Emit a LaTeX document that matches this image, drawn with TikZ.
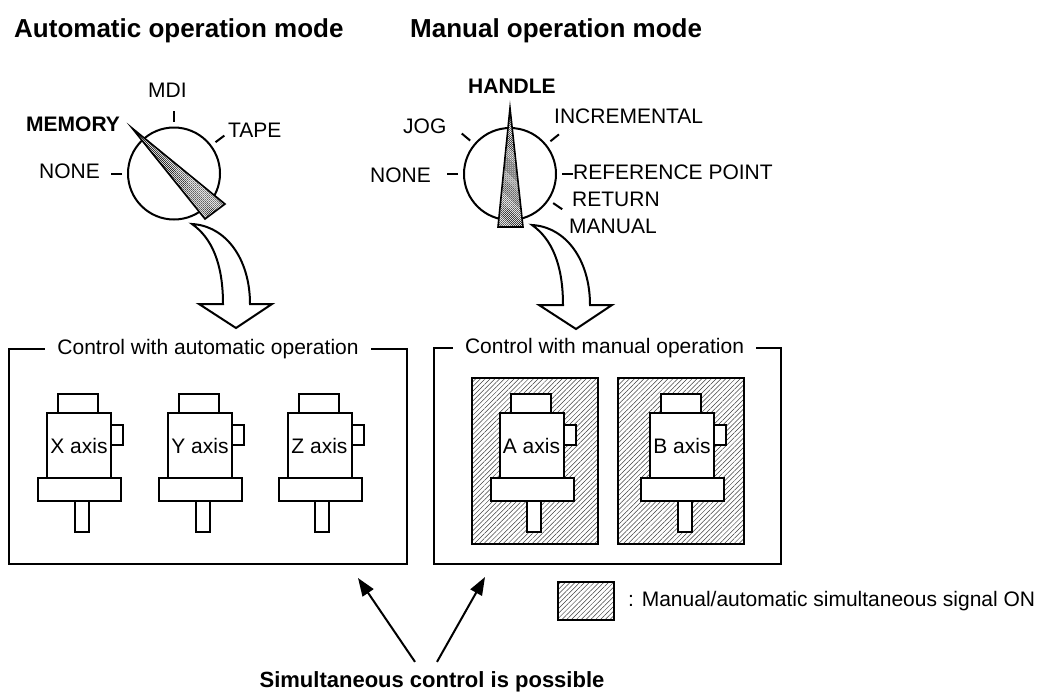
\documentclass[tikz,border=0pt]{standalone}
\usepackage{fontspec}
\setmainfont{Liberation Sans}
\usetikzlibrary{arrows.meta, positioning, calc, patterns.meta}
\tikzset{
    motorpart/.style={draw, fill=white, line width=2pt, inner sep=0pt, outer sep=0pt},
    hatch/.style={draw, line width=2pt, inner sep=0pt, outer sep=0pt, preaction={fill=white},
        pattern={Lines[angle=45, distance=3.4pt, line width=0.5pt]}, pattern color=black!75},
    dial/.style={circle, draw, fill=white, line width=2pt, minimum size=92pt, inner sep=0pt},
    needle/.style={draw, line width=1.6pt, line join=miter, preaction={fill=white},
        pattern={Lines[angle=-45, distance=1.4pt, line width=0.45pt]}},
    dialtick/.style={line width=2pt},
    lbl/.style={inner sep=0pt, anchor=base west, font=\fontsize{21}{25}\selectfont},
    blbl/.style={lbl, font=\fontsize{21.5}{25}\selectfont\bfseries},
    modetitle/.style={lbl, font=\fontsize{26}{30}\selectfont\bfseries},
    groupbox/.style={draw, line width=2pt, inner sep=0pt, outer sep=0pt},
    grouptitle/.style={fill=white, inner xsep=12pt, inner ysep=0pt, font=\fontsize{21}{25}\selectfont},
    flowarrow/.style={draw, fill=white, line width=2pt, line join=miter},
    arr/.style={line width=2pt, -{Triangle[length=18pt, width=13pt]}},
}

% one axis motor: name, x position, label
\newcommand{\motor}[3]{%
    \node[motorpart, minimum width=64pt, minimum height=65pt, font=\fontsize{21}{25}\selectfont] (#1) at (#2,445.5) {#3};
    \node[motorpart, minimum width=40pt, minimum height=19pt, above=0pt of #1, xshift=-1pt] (#1-cap) {};
    \node[motorpart, minimum width=12pt, minimum height=20pt, right=0pt of #1, yshift=10.5pt] (#1-tab) {};
    \node[motorpart, minimum width=83pt, minimum height=23pt, below=0pt of #1, xshift=0.5pt] (#1-flange) {};
    \node[motorpart, minimum width=14pt, minimum height=31pt, below=0pt of #1-flange, xshift=2pt] (#1-shaft) {};
}

% bent hollow arrow from a dial down to its group
\newcommand{\bentarrow}[2]{%
    \begin{scope}[shift={(#1,#2)}]
        \draw[flowarrow] (0,0) .. controls (34,2) and (58,35) .. (58,80) -- (80,80) -- (44,104)
            -- (7,80) -- (31,80) .. controls (31,40) and (20,14) .. (0,0) -- cycle;
    \end{scope}
}

\begin{document}
\begin{tikzpicture}[x=1pt, y=-1pt]
    \useasboundingbox (0,0) rectangle (1044,691);

    % headings
    \node[modetitle] (autotitle) at (14,37) {Automatic operation mode};
    \node[modetitle] (mantitle) at (410,37) {Manual operation mode};

    % automatic mode switch
    \node[dial] (dialA) at (174,173.5) {};
    \foreach \a in {180,-90,-37}
        \draw[dialtick] ($(dialA.center)+(\a:52)$) -- ($(dialA.center)+(\a:63)$);
    \filldraw[needle] (132,128) -- (205,219) -- (225,204) -- cycle;
    \node[lbl] (memA) at (26,131) {\bfseries MEMORY};
    \node[lbl] (mdiA) at (148,97) {MDI};
    \node[lbl] (tapeA) at (228,137) {TAPE};
    \node[lbl] (noneA) at (39,178) {NONE};

    % manual mode switch
    \node[dial] (dialM) at (510,174) {};
    \foreach \a in {180,-140,-39,0,34}
        \draw[dialtick] ($(dialM.center)+(\a:52)$) -- ($(dialM.center)+(\a:63)$);
    \filldraw[needle] (510,108) -- (498,227) -- (523,227) -- cycle;
    \node[lbl] (handleM) at (468,93) {\bfseries HANDLE};
    \node[lbl] (incM) at (554,123) {INCREMENTAL};
    \node[lbl] (jogM) at (403,133) {JOG};
    \node[lbl] (noneM) at (370,182) {NONE};
    \node[lbl] (refM) at (573,179) {REFERENCE POINT};
    \node[lbl] (retM) at (572,206) {RETURN};
    \node[lbl] (manM) at (569,233) {MANUAL};

    \bentarrow{192}{224}
    \bentarrow{532}{225}

    % automatic group
    \node[groupbox, minimum width=398pt, minimum height=215pt] (autobox) at (208,456.5) {};
    \node[grouptitle] (autoname) at (autobox.north) {Control with automatic operation};
    \motor{xaxis}{79}{X axis}
    \motor{yaxis}{200}{Y axis}
    \motor{zaxis}{319.5}{Z axis}

    % manual group
    \node[groupbox, minimum width=347pt, minimum height=216pt] (manbox) at (607.5,456) {};
    \node[grouptitle, xshift=-3pt] (manname) at (manbox.north) {Control with manual operation};
    \node[hatch, minimum width=126pt, minimum height=166pt] (hatchA) at (535,461) {};
    \node[hatch, minimum width=126pt, minimum height=166pt] (hatchB) at (681,461) {};
    \motor{aaxis}{531.5}{A axis}
    \motor{baxis}{682}{B axis}

    % legend
    \node[hatch, minimum width=56pt, minimum height=38pt] (key) at (586,601) {};
    \node[lbl, right=14pt of key] (keytext) {: Manual/automatic simultaneous signal ON};

    % note
    \node[blbl, anchor=base, font=\fontsize{22}{26}\selectfont\bfseries] (note) at (432,687) {Simultaneous control is possible};
    \coordinate (tipL) at (358,578);
    \coordinate (tipR) at (485,577);
    \draw[arr] ([xshift=-17pt, yshift=9pt]note.north) -- (tipL);
    \draw[arr] ([xshift=5pt, yshift=9pt]note.north) -- (tipR);
\end{tikzpicture}
\end{document}
